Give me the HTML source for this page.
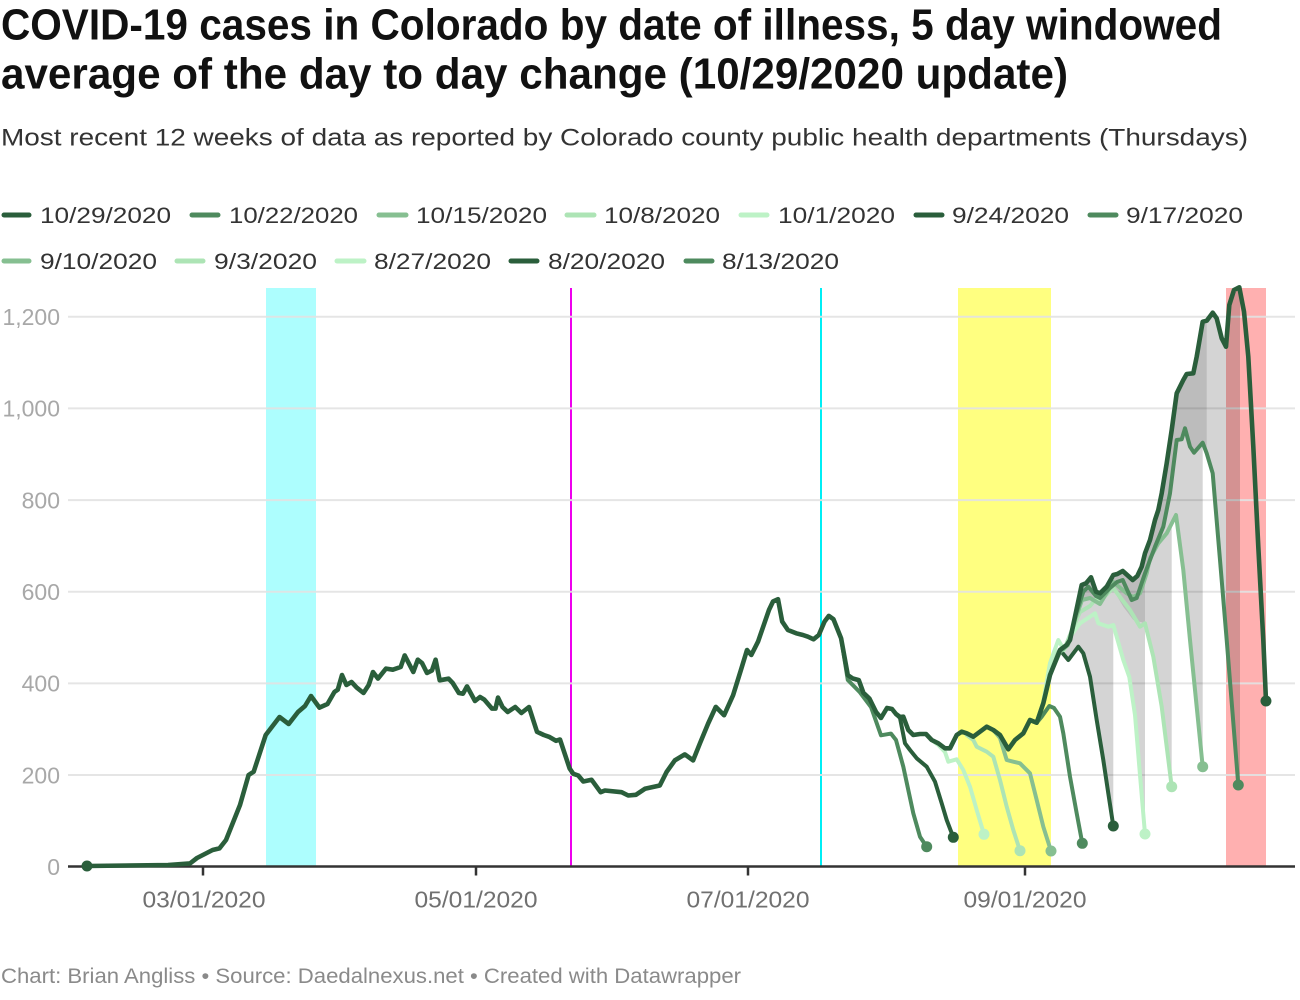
<!DOCTYPE html>
<html><head><meta charset="utf-8"><style>
html,body{margin:0;padding:0;background:#fff;}
svg{display:block;}
text{font-family:"Liberation Sans",Arial,sans-serif;}
</style></head><body>
<svg width="1300" height="1000" viewBox="0 0 1300 1000" xmlns="http://www.w3.org/2000/svg">
<rect width="1300" height="1000" fill="#fff"/>
<!-- Title -->
<text x="1" y="39.5" font-size="44" font-weight="bold" fill="#111" textLength="1221" lengthAdjust="spacingAndGlyphs">COVID-19 cases in Colorado by date of illness, 5 day windowed</text>
<text x="1" y="88.5" font-size="44" font-weight="bold" fill="#111" textLength="1067" lengthAdjust="spacingAndGlyphs">average of the day to day change (10/29/2020 update)</text>
<text x="1" y="145.5" font-size="24" fill="#333" textLength="1247" lengthAdjust="spacingAndGlyphs">Most recent 12 weeks of data as reported by Colorado county public health departments (Thursdays)</text>

<!-- Legend -->
<g stroke-width="5" stroke-linecap="round">
<line x1="4" y1="215" x2="29" y2="215" stroke="#2a5e3b"/>
<line x1="192" y1="215" x2="218" y2="215" stroke="#4e8a5e"/>
<line x1="379" y1="215" x2="406" y2="215" stroke="#86bf91"/>
<line x1="567" y1="215" x2="594" y2="215" stroke="#ade4b5"/>
<line x1="741" y1="215" x2="767" y2="215" stroke="#bdf2c6"/>
<line x1="916" y1="215" x2="942" y2="215" stroke="#2a5e3b"/>
<line x1="1090" y1="215" x2="1116" y2="215" stroke="#4e8a5e"/>
<line x1="4" y1="261" x2="29" y2="261" stroke="#86bf91"/>
<line x1="177" y1="261" x2="203" y2="261" stroke="#ade4b5"/>
<line x1="337" y1="261" x2="364" y2="261" stroke="#bdf2c6"/>
<line x1="511" y1="261" x2="537" y2="261" stroke="#2a5e3b"/>
<line x1="686" y1="261" x2="712" y2="261" stroke="#4e8a5e"/>
</g>
<g font-size="22" fill="#333">
<text x="40" y="223" textLength="131" lengthAdjust="spacingAndGlyphs">10/29/2020</text>
<text x="229" y="223" textLength="129" lengthAdjust="spacingAndGlyphs">10/22/2020</text>
<text x="416" y="223" textLength="131" lengthAdjust="spacingAndGlyphs">10/15/2020</text>
<text x="604" y="223" textLength="116" lengthAdjust="spacingAndGlyphs">10/8/2020</text>
<text x="778" y="223" textLength="117" lengthAdjust="spacingAndGlyphs">10/1/2020</text>
<text x="952" y="223" textLength="117" lengthAdjust="spacingAndGlyphs">9/24/2020</text>
<text x="1126" y="223" textLength="117" lengthAdjust="spacingAndGlyphs">9/17/2020</text>
<text x="40" y="269" textLength="117" lengthAdjust="spacingAndGlyphs">9/10/2020</text>
<text x="214" y="269" textLength="103" lengthAdjust="spacingAndGlyphs">9/3/2020</text>
<text x="374" y="269" textLength="117" lengthAdjust="spacingAndGlyphs">8/27/2020</text>
<text x="548" y="269" textLength="117" lengthAdjust="spacingAndGlyphs">8/20/2020</text>
<text x="722" y="269" textLength="117" lengthAdjust="spacingAndGlyphs">8/13/2020</text>
</g>

<!-- Bands -->
<rect x="266" y="288" width="50" height="578" fill="#adfefe"/>
<rect x="958" y="288" width="93" height="578" fill="#ffff80"/>
<rect x="1226" y="288" width="40" height="578" fill="#ffb0b0"/>
<rect x="570" y="288" width="2" height="578" fill="#ee00ee"/>
<rect x="820" y="288" width="2" height="578" fill="#00eef5"/>

<!-- Gridlines -->
<g stroke="#e3e3e3" stroke-width="2" opacity="0.9">
<line x1="68" y1="316.7" x2="1295" y2="316.7"/>
<line x1="68" y1="408.4" x2="1295" y2="408.4"/>
<line x1="68" y1="500.1" x2="1295" y2="500.1"/>
<line x1="68" y1="591.7" x2="1295" y2="591.7"/>
<line x1="68" y1="683.4" x2="1295" y2="683.4"/>
<line x1="68" y1="775" x2="1295" y2="775"/>
</g>
<g font-size="23" fill="#a8a8a8" text-anchor="end">
<text x="60" y="325">1,200</text>
<text x="60" y="416.7">1,000</text>
<text x="60" y="508.4">800</text>
<text x="60" y="600">600</text>
<text x="60" y="691.7">400</text>
<text x="60" y="783.3">200</text>
<text x="60" y="875">0</text>
</g>

<!-- Grey fills -->
<polygon fill="rgba(0,0,0,0.17)" points="1050,675 1060,650 1066.7,645 1070,640 1075,616.7 1081.7,585 1086,583.3 1091,577.3 1096,591.7 1100,593.3 1106.7,586.7 1113.3,575 1117.3,574 1122.7,571 1128.3,576 1132.7,580 1137.3,576 1141.7,566.7 1145,553.3 1150,540 1155,520 1158.3,510 1161.7,493.3 1166.7,463.3 1171.7,430 1176.7,393.3 1183.3,380 1186.7,374 1193.3,373.3 1196.7,356.7 1202.7,321.7 1206.7,320.7 1212.7,312.7 1216.7,318.3 1221.7,338.3 1226,346.7 1229.3,305 1234,290 1240,288 1240,785 1226.7,640 1220,560 1212.7,473.3 1206.7,453.3 1202.7,442.7 1202.7,766.7 1190,640 1183.3,570 1176,515 1171.7,524 1171.7,786.7 1161.7,706.7 1153.3,656.7 1145,623.3 1145,834 1140,775 1135,715 1129.3,677 1123.3,660 1113.3,625 1113.3,826 1108.3,793.3 1103.3,760 1096.7,720 1090,676.7 1083.3,653.3 1078.3,646.7 1068.3,660 1060,650 1050,673.3"/>
<polygon fill="rgba(0,0,0,0.11)" points="1075,616.7 1081.7,585 1086,583.3 1091,577.3 1096,591.7 1100,593.3 1106.7,586.7 1113.3,575 1117.3,574 1122.7,571 1128.3,576 1132.7,580 1137.3,576 1141.7,566.7 1145,553.3 1150,540 1155,520 1158.3,510 1161.7,493.3 1166.7,463.3 1171.7,430 1176.7,393.3 1183.3,380 1186.7,374 1193.3,373.3 1196.7,356.7 1202.7,321.7 1206.7,320.7 1206.7,453.3 1202.7,442.7 1194,452.7 1190,446.7 1185,428.3 1181.7,439.3 1176.7,440 1170,493.3 1163.3,526.7 1155,546.7 1145,573.3 1145,623.3 1133.3,620 1123.3,606.7 1113.3,590 1103.3,596.7 1093.3,600 1083.3,598 1075,622"/>

<!-- Axis -->
<line x1="68" y1="866.5" x2="1295" y2="866.5" stroke="#333" stroke-width="2.5"/>
<g stroke="#333" stroke-width="2.5">
<line x1="203" y1="866" x2="203" y2="875.5"/>
<line x1="476" y1="866" x2="476" y2="875.5"/>
<line x1="748" y1="866" x2="748" y2="875.5"/>
<line x1="1025" y1="866" x2="1025" y2="875.5"/>
</g>
<g font-size="23" fill="#707070" text-anchor="middle">
<text x="204" y="907.5" textLength="123" lengthAdjust="spacingAndGlyphs">03/01/2020</text>
<text x="476" y="907.5" textLength="123" lengthAdjust="spacingAndGlyphs">05/01/2020</text>
<text x="748" y="907.5" textLength="123" lengthAdjust="spacingAndGlyphs">07/01/2020</text>
<text x="1025" y="907.5" textLength="123" lengthAdjust="spacingAndGlyphs">09/01/2020</text>
</g>

<!-- Series tails (older first) -->
<g fill="none" stroke-width="4" stroke-linejoin="round" stroke-linecap="round">
<polyline stroke="#4e8a5e" points="841.1,638.3 847.8,680 859.5,691.8 871,707 881,735.3 891,733.6 896,740 903.3,766.7 913.3,813.3 920,836.7 926.7,846.7"/>
<polyline stroke="#2a5e3b" points="896,714 900,718 905,743.3 910,750 916.7,758.3 926.7,766.7 935,781.7 941.7,803.3 946.7,820 953.3,837.3"/>
<polyline stroke="#bdf2c6" points="931.7,740 938.3,745 945,752 948.3,761.7 956.7,759.3 963.3,770 970,786.7 976.7,810 984,834.3"/>
<polyline stroke="#ade4b5" points="966.7,735 973.3,740 976.7,746.7 986.7,751.7 993.3,756.7 1000,780 1006.7,806.7 1013.3,830 1020,850.7"/>
<polyline stroke="#86bf91" points="993.3,730 1000,738 1006.7,760 1013.3,761.7 1020,763.3 1030,773.3 1036.7,800 1043.3,826.7 1051,851"/>
<polyline stroke="#4e8a5e" points="1030,720 1036.7,722.7 1041.7,716.7 1049.3,706 1054,708 1060,716.7 1063.3,733.3 1070,776.7 1076.7,813.3 1082.3,843.3"/>
<polyline stroke="#2a5e3b" points="1036.7,722.7 1043.3,703.3 1050,673.3 1060,650 1068.3,660 1078.3,646.7 1083.3,653.3 1090,676.7 1096.7,720 1103.3,760 1108.3,793.3 1113.3,826"/>
<polyline stroke="#bdf2c6" points="1036.7,722.7 1043,703 1050,663 1058.3,640 1064,650 1070,636.7 1080,623.3 1090,616.7 1095,613.3 1098.3,623.3 1103.3,625 1108.3,626.7 1113.3,625 1123.3,660 1129.3,677 1135,715 1140,775 1145,834"/>
<polyline stroke="#ade4b5" points="1043.3,703.3 1050,675 1058,652 1066,645 1072,630 1080,612 1090,606 1095,600 1103,598 1113.3,588 1120,597 1130,610 1140,626.7 1145,623.3 1153.3,656.7 1161.7,706.7 1171.7,786.7"/>
<polyline stroke="#86bf91" points="1043.3,703.3 1050,675 1060,652 1068,645 1075,620 1082,600 1090,598 1100,604 1113.3,582 1126.7,593.3 1133,597 1140,593.3 1146.7,573.3 1150,558.3 1158.3,543.3 1166.7,533.3 1176,515 1183.3,570 1190,640 1202.7,766.7"/>
<polyline stroke="#4e8a5e" points="1070,640 1075,617 1083.3,591.7 1088.3,586.7 1096,596 1100,598 1110,588 1117,582 1122.7,580 1131.7,600 1136.7,598 1145,573.3 1155,546.7 1163.3,526.7 1170,493.3 1176.7,440 1181.7,439.3 1185,428.3 1190,446.7 1194,452.7 1202.7,442.7 1206.7,453.3 1212.7,473.3 1220,560 1226.7,640 1238.3,785"/>
<!-- Main 10/29 line -->
<polyline stroke="#2a5e3b" stroke-width="4.6" points="87,866 168,865 190,863.4 197,858 212.6,850 219.4,848.4 226,840 240,805 248.6,775 253.7,771.7 265.7,735 279.5,717 288.7,724 298,712 305,706 311,696 319.4,707.6 327.5,704 334.4,692 337.8,689.6 342,675 346.4,685 351.5,682 356.7,687.6 363.5,693 368.7,685 373,672 378,678.6 386,668.6 392.8,669.7 400.7,667 404.7,655.4 413.3,672 417.8,659.7 422,663 427,673 432,670.4 435.6,659.7 439.7,680.3 448.6,678.7 452.7,683 458.9,693 463,693.7 467,686.4 475,701 480,697 484.3,699.6 492,708.6 495.5,708.6 498,697.6 502.5,707 507.7,712 515.2,707 521.4,713 529,707 537,731.8 543.8,735 549,736.8 555.9,740.8 560,739.5 569.6,768.4 573.3,773.8 578.3,775.5 583.3,781.5 591.6,779.8 600.6,792.2 604.9,790.5 621.6,792.2 628.2,795.5 635.9,794.8 644.9,788.8 659.8,785.5 666.5,772.1 674.8,760.4 684.8,754.4 693.1,760.4 699.8,743.7 708.1,723.6 715.8,706.9 724.1,715.2 733.1,695.2 741.4,668.4 747,650 751.3,655 758,641.7 769,609.9 773,601.5 778,599.2 782.2,621.6 787.9,630 796.2,633.3 802.9,635 807.9,636.7 813.5,639.3 818.8,635 824.5,621.6 828.8,615.9 833.5,619.3 841.1,638.3 847.8,675.1 852.8,678.5 858.8,680.1 863.4,692.8 869.4,698.5 876,711.9 881,718 887,708 892,709 896,714 900,717 903.3,716.7 908.3,730 913.3,735 920,734 926,734 931.7,740 938.3,743.3 945,748.3 950,748.3 956.7,735 961.7,731.7 966.7,733.3 973.3,736.7 980,731.7 986.7,726.7 993.3,730 1000,735 1008.3,749.3 1015,740 1023.3,733.3 1030,720 1036.7,722.7 1043.3,703.3 1050,675 1060,650 1066.7,645 1070,640 1075,616.7 1081.7,585 1086,583.3 1091,577.3 1096,591.7 1100,593.3 1106.7,586.7 1113.3,575 1117.3,574 1122.7,571 1128.3,576 1132.7,580 1137.3,576 1141.7,566.7 1145,553.3 1150,540 1155,520 1158.3,510 1161.7,493.3 1166.7,463.3 1171.7,430 1176.7,393.3 1183.3,380 1186.7,374 1193.3,373.3 1196.7,356.7 1202.7,321.7 1206.7,320.7 1212.7,312.7 1216.7,318.3 1221.7,338.3 1226,346.7 1229.3,305 1234,290 1239.3,287.3 1244,311.7 1248.3,356.7 1253.3,446.7 1258.3,546.7 1263.3,640 1266,701"/>
</g>
<!-- End dots -->
<circle cx="87" cy="866" r="5.5" fill="#2a5e3b"/>
<circle cx="926.7" cy="846.7" r="5.5" fill="#4e8a5e"/>
<circle cx="953.3" cy="837.3" r="5.5" fill="#2a5e3b"/>
<circle cx="984" cy="834.3" r="5.5" fill="#bdf2c6"/>
<circle cx="1020" cy="850.7" r="5.5" fill="#ade4b5"/>
<circle cx="1051" cy="851" r="5.5" fill="#86bf91"/>
<circle cx="1082.3" cy="843.3" r="5.5" fill="#4e8a5e"/>
<circle cx="1113.3" cy="826" r="5.5" fill="#2a5e3b"/>
<circle cx="1145" cy="834" r="5.5" fill="#bdf2c6"/>
<circle cx="1171.7" cy="786.7" r="5.5" fill="#ade4b5"/>
<circle cx="1202.7" cy="766.7" r="5.5" fill="#86bf91"/>
<circle cx="1238.3" cy="785" r="5.5" fill="#4e8a5e"/>
<circle cx="1266" cy="701" r="5.5" fill="#2a5e3b"/>

<!-- Footer -->
<text x="1" y="983" font-size="21" fill="#8a8a8a" textLength="740" lengthAdjust="spacingAndGlyphs">Chart: Brian Angliss • Source: Daedalnexus.net • Created with Datawrapper</text>
</svg>
</body></html>
